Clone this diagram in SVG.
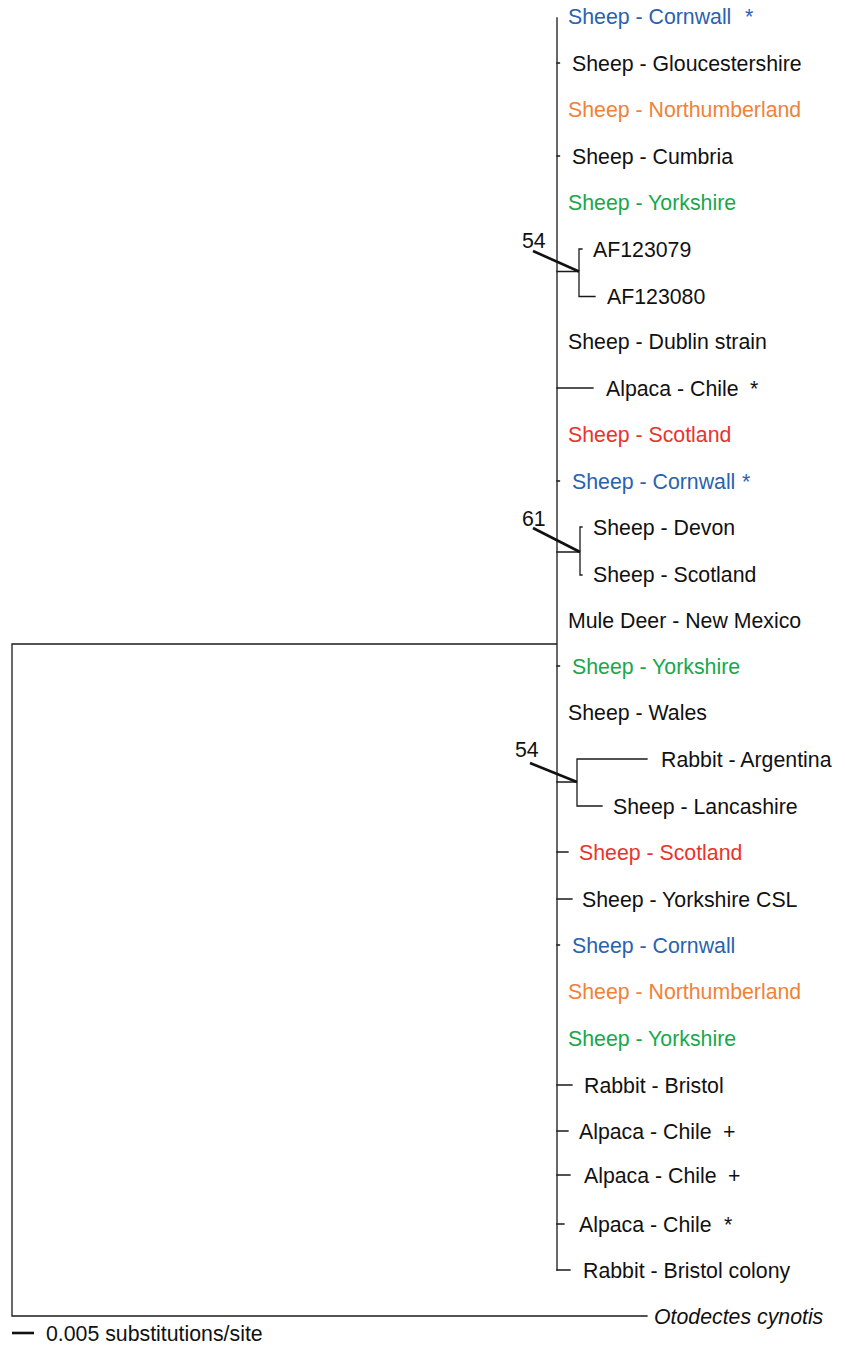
<svg xmlns="http://www.w3.org/2000/svg" width="845" height="1355" viewBox="0 0 845 1355">
<style>
.br{stroke:#1a1a1a;stroke-width:1.3;fill:none;stroke-linecap:square}
.bs{stroke:#111;stroke-width:2.6;fill:none}
text{font-family:"Liberation Sans",Arial,Helvetica,sans-serif;font-size:21.3px;fill:#111}
.blue{fill:#2862b0}
.orange{fill:#f0823a}
.green{fill:#17a84b}
.red{fill:#e8342c}
.it{font-style:italic}
</style>
<rect width="845" height="1355" fill="#fff"/>
<g id="connectors">
<path class="br" d="M12 644V1316H647M12 644H557M557 18V1270"/>
<path class="br" d="M557 63H559.5M557 156H559.5M557 481H559.5M557 666H559.5M557 945H559.5"/>
<path class="br" d="M557 271.5H579M579 249V296.5M579 249H582M579 296.5H595"/>
<path class="br" d="M557 388H593"/>
<path class="br" d="M557 552H580M580 527V575M580 527H582M580 575H582"/>
<path class="br" d="M557 782H577M577 759V806M577 759H647M577 806H602"/>
<path class="br" d="M557 852H568M557 899H572M557 1085H572M557 1131H568M557 1175H570M557 1224H564M557 1270H570"/>
<path class="bs" d="M533 251L579 271.5M533 528L580 552M530 763L577 782"/>
<path class="bs" d="M12 1333H34"/>
</g>
<g id="n54a"><text x="522" y="248">54</text></g>
<g id="n61"><text x="522" y="526">61</text></g>
<g id="n54b"><text x="515" y="757">54</text></g>
<g id="l0"><text class="blue" x="568" y="24">Sheep - Cornwall<tspan x="745">*</tspan></text></g>
<g id="l1"><text x="572" y="70.5">Sheep - Gloucestershire</text></g>
<g id="l2"><text class="orange" x="568" y="116.5">Sheep - Northumberland</text></g>
<g id="l3"><text x="572" y="163.5">Sheep - Cumbria</text></g>
<g id="l4"><text class="green" x="568" y="209.5">Sheep - Yorkshire</text></g>
<g id="l5"><text x="593" y="256.5">AF123079</text></g>
<g id="l6"><text x="607" y="303.5">AF123080</text></g>
<g id="l7"><text x="568" y="348.5">Sheep - Dublin strain</text></g>
<g id="l8"><text x="606" y="395.5">Alpaca - Chile<tspan x="750">*</tspan></text></g>
<g id="l9"><text class="red" x="568" y="441.5">Sheep - Scotland</text></g>
<g id="l10"><text class="blue" x="572" y="488.5">Sheep - Cornwall<tspan x="742">*</tspan></text></g>
<g id="l11"><text x="593" y="534.5">Sheep - Devon</text></g>
<g id="l12"><text x="593" y="581.5">Sheep - Scotland</text></g>
<g id="l13"><text x="568" y="627.5">Mule Deer - New Mexico</text></g>
<g id="l14"><text class="green" x="572" y="673.5">Sheep - Yorkshire</text></g>
<g id="l15"><text x="568" y="719.5">Sheep - Wales</text></g>
<g id="l16"><text x="661" y="766.5">Rabbit - Argentina</text></g>
<g id="l17"><text x="613" y="813.5">Sheep - Lancashire</text></g>
<g id="l18"><text class="red" x="579" y="859.5">Sheep - Scotland</text></g>
<g id="l19"><text x="582" y="906.5">Sheep - Yorkshire CSL</text></g>
<g id="l20"><text class="blue" x="572" y="952.5">Sheep - Cornwall</text></g>
<g id="l21"><text class="orange" x="568" y="998.5">Sheep - Northumberland</text></g>
<g id="l22"><text class="green" x="568" y="1045.5">Sheep - Yorkshire</text></g>
<g id="l23"><text x="584" y="1092.5">Rabbit - Bristol</text></g>
<g id="l24"><text x="579" y="1138.5">Alpaca - Chile<tspan x="723">+</tspan></text></g>
<g id="l25"><text x="584" y="1182.5">Alpaca - Chile<tspan x="728">+</tspan></text></g>
<g id="l26"><text x="579" y="1231.5">Alpaca - Chile<tspan x="724">*</tspan></text></g>
<g id="l27"><text x="583" y="1277.5">Rabbit - Bristol colony</text></g>
<g id="l28"><text class="it" x="654" y="1323.5">Otodectes cynotis</text></g>
<g id="scale"><text x="46" y="1340.5">0.005 substitutions/site</text></g>
</svg>
